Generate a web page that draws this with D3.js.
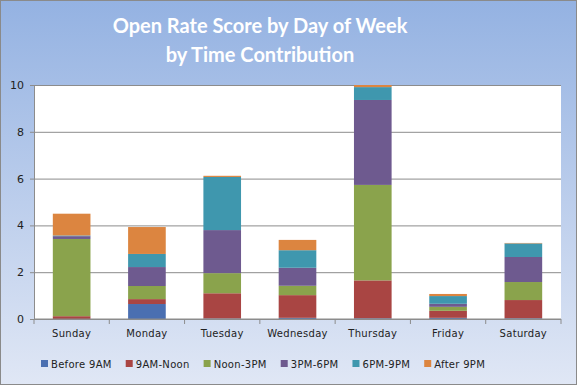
<!DOCTYPE html>
<html>
<head>
<meta charset="utf-8">
<script src="https://cdn.jsdelivr.net/npm/d3@7"></script>
<style>
  html, body { margin: 0; padding: 0; }
  svg { display: block; }
</style>
</head>
<body>
<script>
// chart data
var days = ["Sunday", "Monday", "Tuesday", "Wednesday", "Thursday", "Friday", "Saturday"];
var slots = ["Before 9AM", "9AM-Noon", "Noon-3PM", "3PM-6PM", "6PM-9PM", "After 9PM"];
var before9 = [0.00, 0.64, 0.02, 0.05, 0.03, 0.05, 0.03];
var nineToNoon = [0.12, 0.21, 1.08, 0.97, 1.62, 0.30, 0.78];
var noonTo3 = [3.30, 0.56, 0.86, 0.40, 4.08, 0.17, 0.77];
var threeTo6 = [0.12, 0.81, 1.84, 0.77, 3.63, 0.13, 1.07];
var sixTo9 = [0.03, 0.56, 2.27, 0.75, 0.55, 0.33, 0.58];
var after9 = [0.93, 1.15, 0.05, 0.44, 0.09, 0.09, 0.02];
var yTicks = [0, 2, 4, 6, 8, 10];
var colors = ["#4a6fb1", "#a94543", "#8aa34c", "#6e5a8f", "#3f97ae", "#dc8540"];

var width = 577, height = 385;
var margin = { left: 34, right: 16, top: 85, bottom: 66 };

var svg = d3.select("body").append("svg")
  .attr("width", width)
  .attr("height", height);

// background gradient
var grad = svg.append("defs").append("linearGradient")
  .attr("id", "bg").attr("x1", 0).attr("y1", 0).attr("x2", 0).attr("y2", 1);
grad.append("stop").attr("offset", "0%").attr("stop-color", "#94b2e2");
grad.append("stop").attr("offset", "100%").attr("stop-color", "#e0e7f5");

svg.append("rect")
  .attr("x", 0.5).attr("y", 0.5)
  .attr("width", width - 1).attr("height", height - 1)
  .attr("fill", "url(#bg)")
  .attr("stroke", "#8a8a8a");

// title
var title = svg.append("text")
  .attr("x", 260)
  .attr("text-anchor", "middle")
  .attr("fill", "#ffffff")
  .style("font-family", "Lato, 'Open Sans', sans-serif")
  .style("font-weight", "bold")
  .style("font-size", "20px");
title.append("tspan").attr("x", 260).attr("y", 33).text("Open Rate Score by Day of Week");
title.append("tspan").attr("x", 260).attr("y", 62).text("by Time Contribution");

// stack the series
var rows = days.map(function(d, i) {
  return {
    day: d,
    "Before 9AM": before9[i],
    "9AM-Noon": nineToNoon[i],
    "Noon-3PM": noonTo3[i],
    "3PM-6PM": threeTo6[i],
    "6PM-9PM": sixTo9[i],
    "After 9PM": after9[i]
  };
});
var stacked = d3.stack().keys(slots)(rows);

var x = d3.scaleBand()
  .domain(days)
  .range([margin.left, width - margin.right])
  .paddingInner(0.5)
  .paddingOuter(0.25);

var y = d3.scaleLinear()
  .domain([0, 10])
  .range([height - margin.bottom, margin.top]);

// plot area
svg.append("rect")
  .attr("x", margin.left).attr("y", margin.top)
  .attr("width", width - margin.left - margin.right)
  .attr("height", height - margin.top - margin.bottom)
  .attr("fill", "#ffffff");

// y axis with gridlines
var yAxis = svg.append("g")
  .attr("transform", "translate(" + margin.left + ",0)")
  .call(d3.axisLeft(y).tickValues(yTicks)
    .tickSize(-(width - margin.left - margin.right))
    .tickPadding(10));
yAxis.select(".domain").attr("stroke", "#8c8c8c");
yAxis.selectAll(".tick line").attr("stroke", "#8c8c8c").attr("x1", -4);
yAxis.selectAll(".tick text")
  .attr("fill", "#222")
  .style("font-family", "'DejaVu Sans', sans-serif")
  .style("font-size", "11px");

// bars
svg.append("g").selectAll("g")
  .data(stacked)
  .join("g")
  .attr("fill", function(d, i) { return colors[i]; })
  .selectAll("rect")
  .data(function(d) { return d; })
  .join("rect")
  .attr("x", function(d) { return x(d.data.day); })
  .attr("width", x.bandwidth())
  .attr("y", function(d) { return y(d[1]); })
  .attr("height", function(d) { return y(d[0]) - y(d[1]); });

// x axis, ticks between categories
var step = x.step();
var bounds = d3.range(days.length + 1).map(function(i) { return margin.left + i * step; });
var xAxis = svg.append("g")
  .attr("transform", "translate(0," + y(0) + ")");
xAxis.append("line")
  .attr("x1", margin.left).attr("x2", width - margin.right)
  .attr("stroke", "#8c8c8c");
xAxis.selectAll(".bt")
  .data(bounds)
  .join("line")
  .attr("class", "bt")
  .attr("x1", function(d) { return d; })
  .attr("x2", function(d) { return d; })
  .attr("y1", 0).attr("y2", 5)
  .attr("stroke", "#8c8c8c");
xAxis.selectAll(".lbl")
  .data(days)
  .join("text")
  .attr("class", "lbl")
  .attr("x", function(d) { return x(d) + x.bandwidth() / 2; })
  .attr("y", 18)
  .attr("text-anchor", "middle")
  .attr("fill", "#222")
  .style("font-family", "'DejaVu Sans', sans-serif")
  .style("font-size", "10px")
  .style("letter-spacing", "0.3px")
  .text(function(d) { return d; });

// legend
var legend = svg.append("g").attr("transform", "translate(41,360)");
var lx = 0;
slots.forEach(function(s, i) {
  var item = legend.append("g").attr("transform", "translate(" + lx + ",0)");
  item.append("rect")
    .attr("width", 7).attr("height", 7)
    .attr("fill", colors[i]);
  var t = item.append("text")
    .attr("x", 10).attr("y", 8)
    .attr("fill", "#222")
    .style("font-family", "'DejaVu Sans', sans-serif")
    .style("font-size", "10px")
    .style("letter-spacing", "0.3px")
    .text(s);
  lx += 10 + t.node().getComputedTextLength() + 14;
});
</script>
</body>
</html>
